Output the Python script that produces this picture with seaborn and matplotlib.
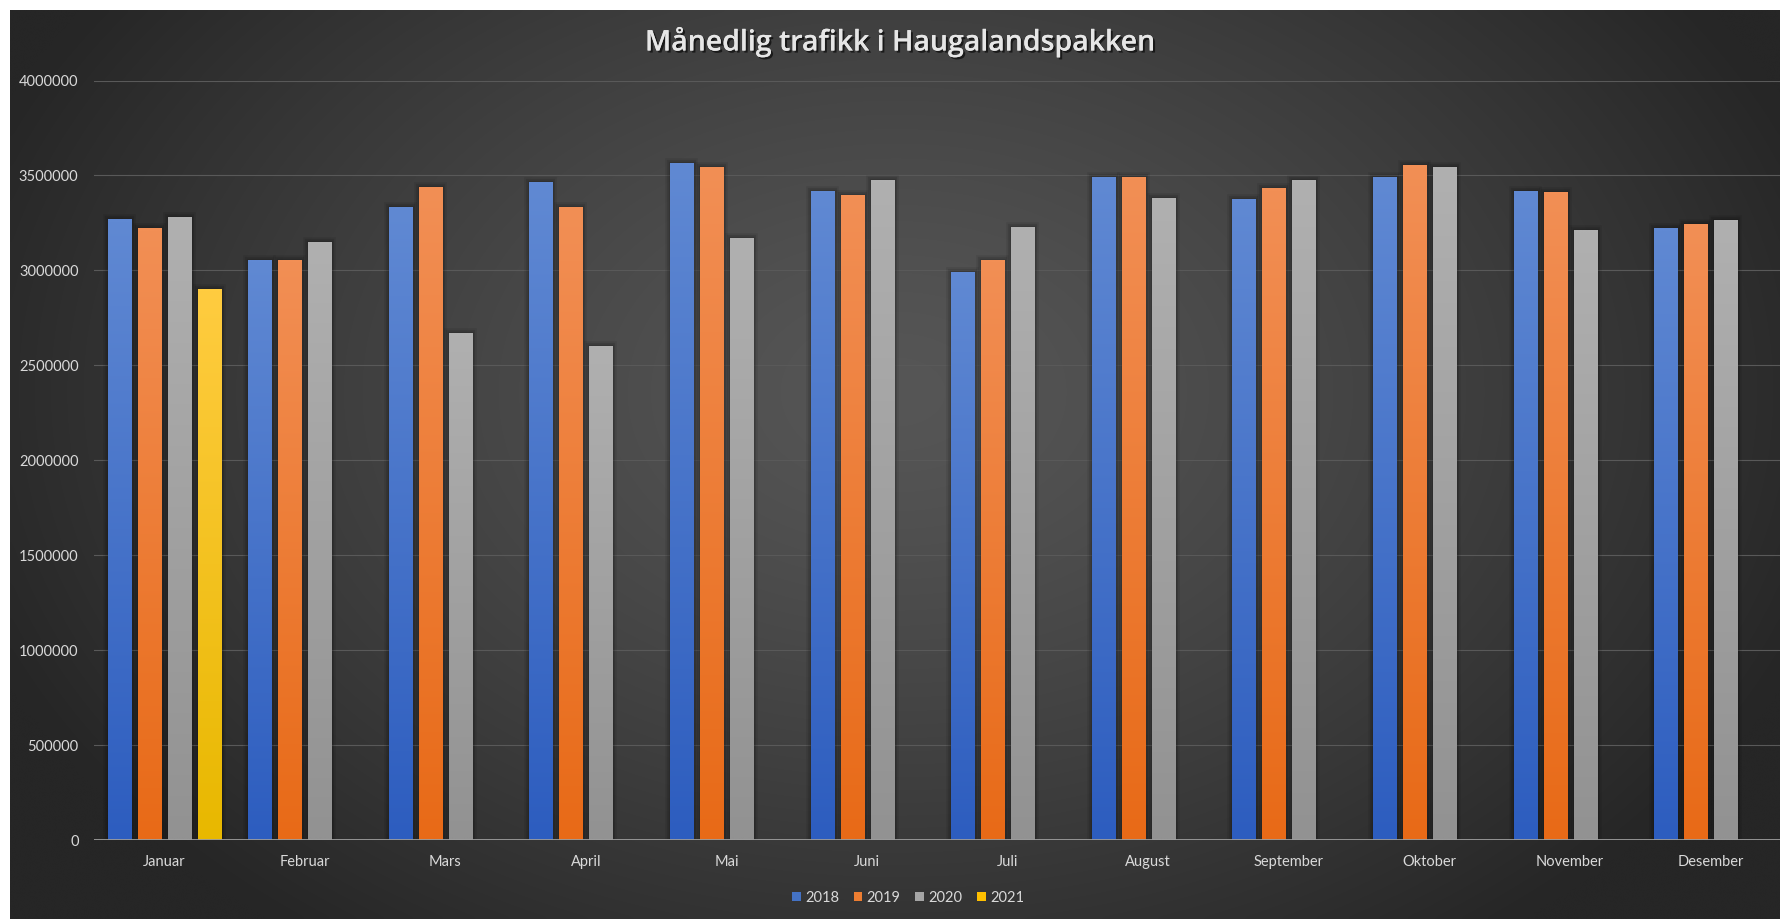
import numpy as np
import pandas as pd
import matplotlib
matplotlib.use("Agg")
import matplotlib.pyplot as plt
import matplotlib.patheffects as pe
from matplotlib.patches import Patch
from matplotlib.colors import to_rgb
import seaborn as sns

months = ["Januar", "Februar", "Mars", "April", "Mai", "Juni", "Juli",
          "August", "September", "Oktober", "November", "Desember"]
years = ["2018", "2019", "2020", "2021"]
v2018 = [3270000, 3056000, 3332000, 3465000, 3568000, 3419000, 2989000,
         3493000, 3375000, 3493000, 3419000, 3221000]
v2019 = [3221000, 3056000, 3437000, 3332000, 3542000, 3398000, 3056000,
         3493000, 3432000, 3553000, 3414000, 3244000]
v2020 = [3283000, 3151000, 2668000, 2603000, 3172000, 3474000, 3226000,
         3382000, 3474000, 3547000, 3211000, 3267000]
v2021 = [2902000]  # only Januar so far
yticks = [0, 500000, 1000000, 1500000, 2000000, 2500000, 3000000, 3500000, 4000000]
title = "Månedlig trafikk i Haugalandspakken"

colors = {"2018": "#4472C4", "2019": "#ED7D31", "2020": "#A5A5A5", "2021": "#FFC000"}
grad_top = {"2018": "#6089D3", "2019": "#F28F55", "2020": "#B0B0B0", "2021": "#FFCC40"}
grad_bot = {"2018": "#2D5DBF", "2019": "#E86A17", "2020": "#929292", "2021": "#E8B800"}

rows = []
for series, yr in [(v2018, "2018"), (v2019, "2019"), (v2020, "2020"), (v2021, "2021")]:
    for m, v in zip(months, series):
        rows.append({"Måned": m, "År": yr, "Trafikk": v})
df = pd.DataFrame(rows)

W, H = 1781, 919
fig = plt.figure(figsize=(W / 100, H / 100), dpi=100)
fig.patch.set_facecolor("white")

# dark radial-gradient background panel
x0p, topp = 9.6, 10
bg = fig.add_axes([x0p / W, 0, 1 - x0p / W, (H - topp) / H])
bg.set_axis_off()
nx, ny = 400, 220
gx, gy = np.meshgrid(np.linspace(0, 1, nx), np.linspace(0, 1, ny))
r = np.sqrt(((gx - 0.5) / 0.55) ** 2 + ((gy - 0.42) / 0.75) ** 2)
t = np.clip(r, 0, 1) ** 1.3
c0 = np.array(to_rgb("#565656"))
c1 = np.array(to_rgb("#262626"))
img = c0[None, None, :] * (1 - t[..., None]) + c1[None, None, :] * t[..., None]
bg.imshow(img, aspect="auto", extent=(0, 1, 0, 1), origin="upper", interpolation="bicubic")
bg.set_xlim(0, 1); bg.set_ylim(0, 1)

ax_left = 93.8 / W
ax_bottom = (H - 840) / H
ax_top = (H - 80.5) / H
ax = fig.add_axes([ax_left, ax_bottom, 1 - ax_left, ax_top - ax_bottom])
ax.set_facecolor("none")

sns.barplot(data=df, x="Måned", y="Trafikk", hue="År", order=months, hue_order=years,
            palette=colors, width=0.853, gap=0.23, legend=False, ax=ax,
            errorbar=None, saturation=1, zorder=3)

ax.set_ylim(0, 4000000)
ax.set_xlim(-0.5, 11.5)

# gradient fill per bar, with a soft dark halo like the original
for p in list(ax.patches):
    h = p.get_height()
    if not np.isfinite(h) or h <= 0:
        continue
    fc = p.get_facecolor()[:3]
    yr = None
    for k, c in colors.items():
        if np.allclose(fc, to_rgb(c), atol=0.02):
            yr = k
    if yr is None:
        continue
    p.set_path_effects([pe.Stroke(linewidth=7, foreground="black", alpha=0.07),
                        pe.Stroke(linewidth=4.5, foreground="black", alpha=0.10),
                        pe.Stroke(linewidth=2.5, foreground="black", alpha=0.12),
                        pe.Normal()])
    top = np.array(to_rgb(grad_top[yr])); bot = np.array(to_rgb(grad_bot[yr]))
    s = np.linspace(0, 1, 100)[:, None]
    g = top[None, :] * (1 - s) + bot[None, :] * s
    g = g[:, None, :]
    x = p.get_x(); w = p.get_width()
    im = ax.imshow(g, aspect="auto", extent=(x, x + w, 0, h), origin="upper", zorder=4,
                   interpolation="bilinear")
    im.set_clip_path(p)

ax.set_ylim(0, 4000000)
ax.set_xlim(-0.5, 11.5)

tick_font = ["Lato", "DejaVu Sans"]
ax.set_yticks(yticks)
ax.set_yticklabels([str(v) for v in yticks], family=tick_font, fontsize=10.5, color="#D9D9D9")
ax.set_xticks(range(len(months)))
ax.set_xticklabels(months, family=tick_font, fontsize=10.5, color="#D9D9D9")
ax.tick_params(axis="y", length=0, pad=11)
ax.tick_params(axis="x", length=0, pad=11)
ax.set_xlabel(""); ax.set_ylabel("")
for s in ax.spines.values():
    s.set_visible(False)
ax.grid(False)
for yv in yticks[1:]:
    ax.axhline(yv, color="#595959", lw=0.8, zorder=1)
ax.axhline(0, color="#9C9C9C", lw=1.3, zorder=5)

t = fig.text(900 / W, 1 - 42 / H, title, ha="center", va="center",
             family=["Open Sans", "DejaVu Sans"], fontweight="semibold", fontsize=20.5,
             color="#E6E6E6")
t.set_path_effects([pe.withSimplePatchShadow(offset=(1.5, -1.5), shadow_rgbFace="black", alpha=0.6), pe.Normal()])

handles = [Patch(facecolor=colors[y], edgecolor="none", label=y) for y in years]
leg = fig.legend(handles=handles, loc="center", bbox_to_anchor=(908 / W, 1 - 897.7 / H),
                 ncol=4, frameon=False, handlelength=0.6, handleheight=0.6,
                 handletextpad=0.3, columnspacing=1.0,
                 prop={"family": tick_font, "size": 10.5})
for txt in leg.get_texts():
    txt.set_color("#D9D9D9")

fig.savefig("out.png", dpi=100, facecolor=fig.get_facecolor())
